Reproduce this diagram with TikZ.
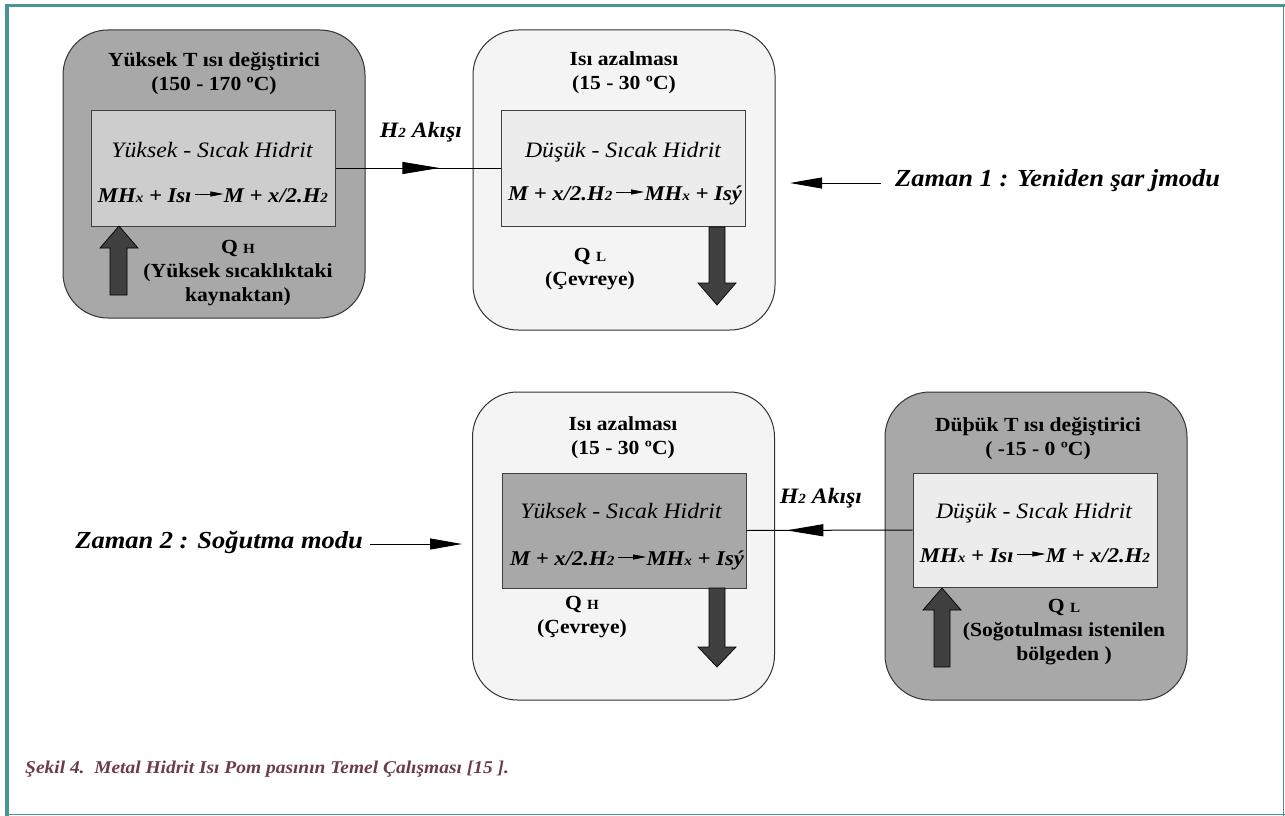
\documentclass[tikz,border=0pt]{standalone}
\usepackage{fontspec}
\setmainfont[FakeStretch=1.08]{Liberation Serif}
\usetikzlibrary{arrows.meta, decorations.markings}

\definecolor{frameteal}{HTML}{4A9494}
\definecolor{darkbox}{HTML}{A8A8A8}
\definecolor{lightbox}{HTML}{F4F4F4}
\definecolor{midcell}{HTML}{CDCDCD}
\definecolor{palecell}{HTML}{ECECEC}
\definecolor{heatgray}{HTML}{404040}
\definecolor{captioncol}{HTML}{6B3A4E}

\newcommand{\subsm}[1]{{\fontsize{14}{14}\selectfont #1}}
\newcommand{\reacarrow}{\,\tikz[baseline=-8pt]\draw[line width=0.7pt,-{Triangle[length=13pt,width=5pt]}] (0pt,0pt) -- (28pt,0pt);}

\begin{document}
\begin{tikzpicture}[x=1pt, y=-1pt,
    outerbox/.style={draw=black!80, line width=1pt, rounded corners=45pt, minimum width=302pt},
    hotbox/.style={outerbox, fill=darkbox},
    coolbox/.style={outerbox, fill=lightbox},
    cell/.style={draw=black!75, line width=1pt, minimum width=244pt, minimum height=116pt},
    boxtitle/.style={font=\fontsize{20}{24}\selectfont\bfseries, align=center, inner sep=0pt},
    qlabel/.style={font=\fontsize{20}{24}\selectfont\bfseries, align=center, inner sep=0pt},
    hidrit/.style={font=\fontsize{22}{24}\selectfont\itshape, anchor=base, inner sep=0pt},
    reac/.style={font=\fontsize{21}{24}\selectfont\bfseries\itshape, anchor=base, inner sep=0pt},
    flowlabel/.style={font=\fontsize{22}{24}\selectfont\bfseries\itshape, anchor=base, inner sep=0pt},
    zamantext/.style={font=\fontsize{24.5}{28}\selectfont\bfseries\itshape, inner sep=0pt},
    heat/.style={draw=black, fill=heatgray, line width=0.7pt},
    flow/.style={line width=1pt},
    midtip/.style={postaction={decorate}, decoration={markings,
        mark=at position #1 with {\arrow{Triangle[length=37pt,width=12pt]}}}},
    ]
    \useasboundingbox (0,0) rectangle (1285,816);

    % frame
    \draw[frameteal, line width=3.5pt] (6.75,816) -- (6.75,5.75) -- (1285,5.75);
    \draw[frameteal, line width=1.5pt] (1283.5,5) -- (1283.5,816);
    \draw[frameteal, line width=1.5pt] (5,814.5) -- (1285,814.5);

    % time 1
    \node[hotbox, minimum height=288pt]  (hot1)  at (214,174) {};
    \node[coolbox, minimum height=300pt] (cool1) at (624,180) {};
    \node[cell, fill=midcell]  (cell1) at (213,168) {};
    \node[cell, fill=palecell] (cell2) at (623,168) {};

    \node[boxtitle] (t1) at (214,74) {Yüksek T ısı değiştirici\\(150 - 170 ºC)};
    \node[boxtitle] (t2) at (624,73) {Isı azalması\\(15 - 30 ºC)};
    \node[hidrit] (h1) at (212,157) {Yüksek - Sıcak Hidrit};
    \node[hidrit] (h2) at (623,157) {Düşük - Sıcak Hidrit};
    \node[reac] (r1) at (213,202) {MH\subsm{x} + Isı\reacarrow M + x/2.H\subsm{2}};
    \node[reac] (r2) at (625,200) {M + x/2.H\subsm{2}\reacarrow MH\subsm{x} + Isý};
    \node[qlabel] (q1) at (238,273) {Q \subsm{H}\\(Yüksek sıcaklıktaki\\kaynaktan)};
    \node[qlabel] (q2) at (590,269) {Q \subsm{L}\\(Çevreye)};

    \draw[heat] (110,295) -- (110,248) -- (100,248) -- (119,226) -- (138,248) -- (127,248) -- (127,295) -- cycle;
    \draw[heat] (709,227) -- (709,283) -- (698,283) -- (717,305) -- (736,283) -- (725,283) -- (725,227) -- cycle;

    \draw[flow, midtip=0.63] (cell1.east) -- (cell2.west);
    \node[flowlabel] (a1) at (421,137) {H\subsm{2} Akışı};

    \node[zamantext, anchor=base west] (zaman1) at (895,186) {Zaman 1 : Yeniden şar jmodu};
    \coordinate (z1tail) at (881,183);
    \coordinate (z1head) at (790,183);
    \draw[flow, -{Triangle[length=32pt,width=11pt]}] (z1tail) -- (z1head);

    % time 2
    \node[coolbox, minimum height=308pt] (cool2) at (623.5,546) {};
    \node[hotbox, minimum height=308pt]  (hot2)  at (1036,546) {};
    \node[cell, fill=darkbox, minimum height=115pt]  (cell3) at (624,530.5) {};
    \node[cell, fill=palecell, minimum height=114pt] (cell4) at (1035,530) {};

    \node[boxtitle] (t3) at (623,438) {Isı azalması\\(15 - 30 ºC)};
    \node[boxtitle] (t4) at (1038,439) {Düþük T ısı değiştirici\\( -15 - 0 ºC)};
    \node[hidrit] (h3) at (621,518) {Yüksek - Sıcak Hidrit};
    \node[hidrit] (h4) at (1034,518) {Düşük - Sıcak Hidrit};
    \node[reac] (r3) at (627,565) {M + x/2.H\subsm{2}\reacarrow MH\subsm{x} + Isý};
    \node[reac] (r4) at (1035,562) {MH\subsm{x} + Isı\reacarrow M + x/2.H\subsm{2}};
    \node[qlabel] (q3) at (582,617) {Q \subsm{H}\\(Çevreye)};
    \node[qlabel] (q4) at (1064,632) {Q \subsm{L}\\(Soğotulması istenilen\\bölgeden )};

    \draw[heat] (709,588) -- (709,647) -- (698,647) -- (717,667) -- (736,647) -- (725,647) -- (725,588) -- cycle;
    \draw[heat] (934,667) -- (934,610) -- (923,610) -- (942,588) -- (961,610) -- (950,610) -- (950,667) -- cycle;

    \draw[flow, midtip=0.76] (cell4.west) -- (cell3.east);
    \node[flowlabel] (a2) at (821,503) {H\subsm{2} Akışı};

    \node[zamantext, anchor=base east] (zaman2) at (363,548) {Zaman 2 : Soğutma modu};
    \coordinate (z2tail) at (370,544);
    \coordinate (z2head) at (462,544);
    \draw[flow, -{Triangle[length=32pt,width=11pt]}] (z2tail) -- (z2head);

    % caption
    \node[anchor=base west, inner sep=0pt, text=captioncol,
          font=\fontsize{18}{20}\selectfont\bfseries\itshape] (caption) at (25,773)
          {Şekil 4.\ \ Metal Hidrit Isı Pom pasının Temel Çalışması [15 ].};
\end{tikzpicture}
\end{document}
